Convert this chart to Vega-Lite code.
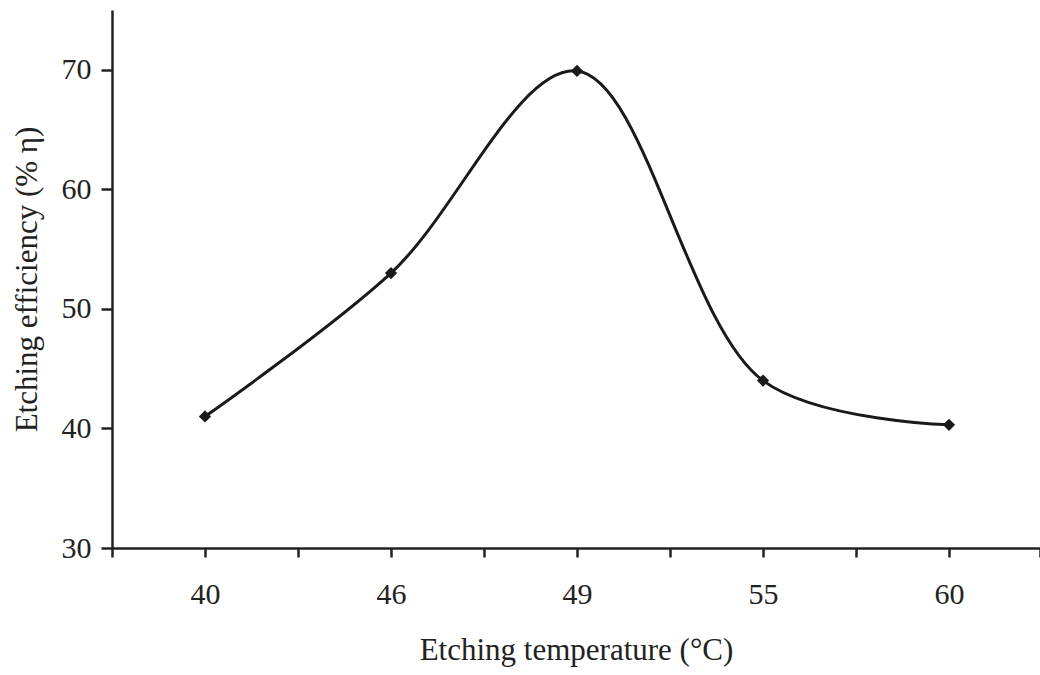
{
  "$schema": "https://vega.github.io/schema/vega-lite/v6.json",
  "width": 928,
  "height": 538,
  "autosize": {"type": "none"},
  "padding": {"left": 112, "top": 10, "right": 0, "bottom": 127},
  "background": "white",
  "config": {
    "view": {"stroke": null},
    "font": "Liberation Serif",
    "axis": {
      "labelFont": "Liberation Serif",
      "titleFont": "Liberation Serif",
      "labelFontSize": 30,
      "titleFontSize": 31,
      "titleFontWeight": "normal",
      "labelColor": "#222",
      "titleColor": "#222",
      "domainColor": "#222",
      "tickColor": "#222",
      "domainWidth": 2.5,
      "tickWidth": 2.5,
      "grid": false
    }
  },
  "data": {
    "values": [
      {"temp": 40, "eff": 41.0},
      {"temp": 46, "eff": 53.0},
      {"temp": 49, "eff": 69.9},
      {"temp": 55, "eff": 44.0},
      {"temp": 60, "eff": 40.3}
    ]
  },
  "encoding": {
    "x": {
      "field": "temp",
      "type": "quantitative",
      "scale": {
        "domain": [37, 40, 46, 49, 55, 60, 62.5],
        "range": [0, 93, 279, 465, 651, 837, 928],
        "nice": false,
        "zero": false
      },
      "axis": {
        "values": [37, 40, 43, 46, 47.5, 49, 52, 55, 57.5, 60, 62.5],
        "labelExpr": "(datum.value == 40 || datum.value == 46 || datum.value == 49 || datum.value == 55 || datum.value == 60) ? datum.label : ''",
        "tickSize": 9,
        "labelPadding": 22,
        "titlePadding": 26,
        "title": "Etching temperature (°C)"
      }
    },
    "y": {
      "field": "eff",
      "type": "quantitative",
      "scale": {"domain": [30, 75], "nice": false, "zero": false},
      "axis": {
        "values": [30, 40, 50, 60, 70],
        "tickSize": 11,
        "labelPadding": 10,
        "titlePadding": 18,
        "title": "Etching efficiency (% η)"
      }
    }
  },
  "layer": [
    {
      "mark": {"type": "line", "interpolate": "catmull-rom", "color": "#1a1a1a", "strokeWidth": 3}
    },
    {
      "mark": {"type": "point", "shape": "diamond", "filled": true, "color": "#1a1a1a", "size": 150, "opacity": 1}
    }
  ]
}
